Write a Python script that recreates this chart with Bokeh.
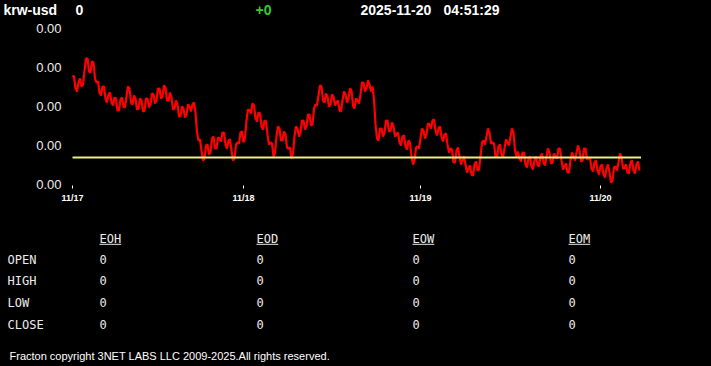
from bokeh.plotting import figure
from bokeh.models import Range1d, FixedTicker, CustomJSTickFormatter
from bokeh.layouts import column
from bokeh.core.properties import value
from bokeh.embed import file_html
from bokeh.resources import INLINE

# ---------------- data ----------------
symbol = "krw-usd"
last_price = "0"
change = "+0"
quote_date = "2025-11-20"
quote_time = "04:51:29"

# rate in units of 1e-6 USD per KRW, one sample per step
rate_e6 = [
    690.9, 690.8, 689.6, 689.3, 690.2, 690.6, 689.8, 690.0, 691.4, 692.6,
    692.6, 691.3, 691.2, 692.3, 692.2, 690.6, 690.2, 690.3, 689.2, 688.9,
    689.8, 689.8, 688.6, 688.2, 689.0, 689.2, 688.2, 687.9, 688.7, 688.6,
    687.4, 687.4, 688.5, 688.7, 687.8, 687.7, 688.8, 689.8, 689.6, 688.2,
    688.0, 688.9, 688.6, 687.5, 687.6, 688.6, 688.4, 687.3, 687.4, 688.6,
    688.6, 687.7, 688.0, 689.1, 689.0, 688.1, 688.4, 689.6, 689.6, 688.6,
    688.8, 689.9, 689.7, 688.4, 688.4, 689.2, 688.7, 687.5, 687.6, 688.4,
    688.0, 686.8, 686.8, 687.8, 687.6, 686.7, 687.0, 688.0, 687.8, 687.3,
    688.0, 688.2, 687.2, 685.2, 684.4, 684.5, 683.4, 682.4, 682.6, 683.9,
    684.0, 683.0, 683.2, 684.6, 684.8, 683.6, 683.6, 684.7, 684.6, 684.3,
    685.2, 685.2, 684.0, 683.6, 684.4, 684.5, 683.4, 682.4, 682.6, 684.0,
    684.2, 684.1, 685.2, 685.3, 684.2, 684.7, 686.4, 687.5, 687.4, 687.1,
    688.1, 687.9, 686.6, 686.3, 687.2, 687.1, 685.8, 685.5, 686.4, 686.3,
    685.0, 684.0, 684.2, 684.1, 682.8, 683.2, 684.8, 685.8, 685.6, 684.4,
    684.4, 685.3, 685.0, 683.7, 683.6, 683.7, 682.6, 683.1, 684.8, 685.8,
    685.6, 684.8, 685.2, 686.4, 686.4, 685.5, 685.8, 687.0, 687.0, 685.9,
    686.0, 687.6, 688.0, 687.9, 688.9, 689.9, 689.8, 688.4, 688.2, 689.1,
    688.8, 687.8, 688.0, 689.0, 688.8, 687.9, 688.2, 688.4, 687.4, 687.3,
    688.4, 689.3, 689.0, 688.2, 688.6, 689.6, 689.4, 687.9, 687.6, 688.6,
    688.4, 688.1, 689.0, 690.2, 690.2, 689.3, 689.6, 690.4, 690.0, 689.3,
    689.8, 688.5, 686.0, 684.6, 684.4, 685.6, 685.6, 684.8, 685.2, 686.4,
    686.4, 685.3, 685.4, 686.2, 685.8, 684.8, 685.0, 685.2, 684.2, 683.9,
    684.8, 684.9, 683.8, 683.5, 684.4, 684.2, 682.8, 682.0, 682.4, 683.7,
    683.8, 683.6, 684.6, 685.6, 685.4, 684.6, 685.0, 686.1, 686.0, 685.6,
    686.4, 686.5, 685.4, 684.9, 685.6, 685.8, 684.8, 684.3, 685.0, 685.1,
    684.0, 683.2, 683.6, 683.5, 682.2, 682.2, 683.4, 683.7, 682.8, 682.0,
    682.4, 682.8, 682.0, 681.2, 681.6, 681.9, 681.0, 680.9, 682.0, 682.3,
    681.4, 681.5, 682.8, 684.2, 684.4, 684.0, 684.8, 685.6, 685.2, 684.1,
    684.2, 684.1, 682.8, 682.7, 683.8, 684.0, 683.0, 682.7, 683.6, 684.5,
    684.2, 683.9, 684.8, 685.6, 685.2, 683.4, 682.8, 683.3, 682.6, 682.3,
    683.2, 683.2, 682.0, 681.7, 682.6, 682.8, 681.8, 681.5, 682.4, 682.8,
    682.0, 681.8, 682.8, 683.1, 682.2, 681.9, 682.8, 683.6, 683.2, 682.1,
    682.2, 683.1, 682.8, 682.6, 683.6, 683.6, 682.4, 681.5, 681.8, 682.1,
    681.2, 681.2, 682.4, 683.2, 682.8, 682.4, 683.2, 683.9, 683.4, 682.3,
    682.4, 683.6, 683.6, 682.5, 682.6, 682.7, 681.6, 681.3, 682.2, 682.4,
    681.4, 681.0, 681.8, 682.0, 681.0, 680.7, 681.6, 682.0, 681.2, 680.2,
    680.4, 681.7, 681.8, 681.4, 682.2, 683.1, 682.8, 681.6, 681.6, 682.0,
    681.2, 681.1, 682.2, 682.4, 681.4, 681.1, 682.0, 682.3, 681.4,
]
sample_idx = list(range(len(rate_e6)))
reference_e6 = 682.7

day_ticks = [0, 114, 232, 352]
day_labels = ["11/17", "11/18", "11/19", "11/20"]
y_ticks = [680.0, 683.9, 687.8, 691.7, 695.6]

table_cols = ["EOH", "EOD", "EOW", "EOM"]
table_rows = ["OPEN", "HIGH", "LOW", "CLOSE"]
table_vals = [
    [0, 0, 0, 0],
    [0, 0, 0, 0],
    [0, 0, 0, 0],
    [0, 0, 0, 0],
]
footer = "Fracton copyright 3NET LABS LLC 2009-2025.All rights reserved."

# ---------------- styles ----------------
W = 711
BG = "black"
SANS = "Liberation Sans"
MONO = "DejaVu Sans Mono"
TXT = "#ececec"


def blank_fig(h):
    f = figure(width=W, height=h, x_range=Range1d(0, W), y_range=Range1d(h, 0),
               x_axis_type=None, y_axis_type=None, output_backend="svg",
               toolbar_location=None, min_border=0, frame_align=False,
               background_fill_color=BG, border_fill_color=BG,
               outline_line_color=None, styles={"background-color": BG})
    f.grid.visible = False
    return f


# header
HEAD_H = 18
head = blank_fig(HEAD_H)
head_items = [
    (symbol, 3, "white"),
    (last_price, 75, "white"),
    (change, 255, "#33cc33"),
    (quote_date, 360, "white"),
    (quote_time, 443, "white"),
]
for txt, x, col in head_items:
    head.text(x=[x], y=[9.5], text=[txt], text_color=col,
              text_font=value(SANS), text_font_style="bold",
              text_font_size=value("14px"), text_baseline="middle",
              text_align="left")

# chart
CH_TOP = HEAD_H
CH_H = 210
p = figure(width=W, height=CH_H, x_range=Range1d(-4, 382),
           y_range=Range1d(679.9, 696.4), output_backend="svg",
           toolbar_location=None, min_border_left=66, min_border_right=66,
           min_border_top=2, min_border_bottom=43, frame_align=False,
           background_fill_color=BG, border_fill_color=BG,
           outline_line_color=None, styles={"background-color": BG})
p.grid.visible = False

p.line(sample_idx, rate_e6, line_color="#ff0000", line_width=2.2)
p.line([sample_idx[0], sample_idx[-1] + 1], [reference_e6, reference_e6],
       line_color="#eeee88", line_width=2)

p.xaxis.ticker = FixedTicker(ticks=day_ticks)
p.xaxis.major_label_overrides = dict(zip(day_ticks, day_labels))
p.xaxis.axis_line_color = None
p.xaxis.major_tick_line_color = "white"
p.xaxis.major_tick_out = 3
p.xaxis.major_tick_in = 0
p.xaxis.minor_tick_line_color = None
p.xaxis.major_label_standoff = 4
p.xaxis.major_label_text_color = "white"
p.xaxis.major_label_text_font = SANS
p.xaxis.major_label_text_font_style = "bold"
p.xaxis.major_label_text_font_size = "9px"

p.yaxis.ticker = FixedTicker(ticks=y_ticks)
p.yaxis.formatter = CustomJSTickFormatter(code="return (tick * 1e-6).toFixed(2);")
p.yaxis.axis_line_color = None
p.yaxis.major_tick_line_color = None
p.yaxis.major_tick_out = 0
p.yaxis.major_tick_in = 0
p.yaxis.minor_tick_line_color = None
p.yaxis.major_label_standoff = 5
p.yaxis.major_label_text_color = TXT
p.yaxis.major_label_text_font = SANS
p.yaxis.major_label_text_font_size = "13px"

# table
TB_TOP = CH_TOP + CH_H
TB_H = 366 - TB_TOP
t = blank_fig(TB_H)
col_x = [99, 256, 412, 568]
row_label_x = 7
head_y = 238.8 - TB_TOP
under_y = 243.8 - TB_TOP
row_y = [259.3, 280.8, 302.5, 324.5]
char_w = 7.25

for name, x in zip(table_cols, col_x):
    t.text(x=[x], y=[head_y], text=[name], text_color=TXT,
           text_font=value(MONO), text_font_size=value("12px"),
           text_baseline="middle", text_align="left")
    t.line([x, x + char_w * len(name)], [under_y, under_y],
           line_color=TXT, line_width=1)

for r, (rname, ry) in enumerate(zip(table_rows, row_y)):
    y = ry - TB_TOP
    t.text(x=[row_label_x], y=[y], text=[rname], text_color=TXT,
           text_font=value(MONO), text_font_size=value("12px"),
           text_baseline="middle", text_align="left")
    for c, x in enumerate(col_x):
        t.text(x=[x], y=[y - 0.8], text=[str(table_vals[r][c])], text_color=TXT,
               text_font=value(MONO), text_font_size=value("12px"),
               text_baseline="middle", text_align="left")

t.text(x=[9], y=[355.5 - TB_TOP], text=[footer], text_color="white",
       text_font=value(SANS), text_font_size=value("11px"),
       text_baseline="middle", text_align="left")

layout = column(head, p, t, spacing=0, styles={"background-color": BG})

open("out.html", "w").write(file_html(layout, INLINE))
